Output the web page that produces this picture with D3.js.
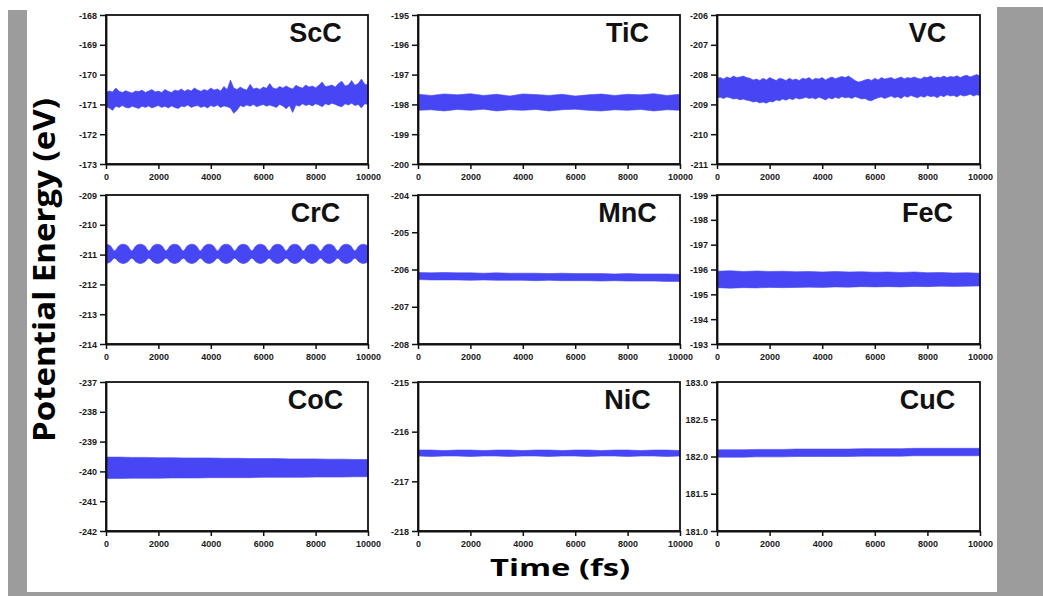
<!DOCTYPE html>
<html>
<head>
<meta charset="utf-8">
<script src="https://cdn.jsdelivr.net/npm/d3@7"></script>
<style>
  body { margin: 0; background: #fff; }
  svg { display: block; }
  .tick text { font-family: "Liberation Sans", Arial, sans-serif; font-weight: bold; font-size: 9px; fill: #1a1a1a; }
</style>
</head>
<body>
<svg id="chart" width="1043" height="596"></svg>
<script>

var panelNames = ["ScC", "TiC", "VC", "CrC", "MnC", "FeC", "CoC", "NiC", "CuC"];

var xTicks = [0, 2000, 4000, 6000, 8000, 10000];

// y axis: value at top of the box, value at bottom
var yTop    = [-168, -195, -206, -209, -204, -199, -237, -215, 183];
var yBottom = [-173, -200, -211, -214, -208, -193, -242, -218, 181];

var ticksScC = [-168, -169, -170, -171, -172, -173];
var ticksTiC = [-195, -196, -197, -198, -199, -200];
var ticksVC  = [-206, -207, -208, -209, -210, -211];
var ticksCrC = [-209, -210, -211, -212, -213, -214];
var ticksMnC = [-204, -205, -206, -207, -208];
var ticksFeC = [-199, -198, -197, -196, -195, -194, -193];
var ticksCoC = [-237, -238, -239, -240, -241, -242];
var ticksNiC = [-215, -216, -217, -218];
var ticksCuC = [183.0, 182.5, 182.0, 181.5, 181.0];

// time grids (fs)
var time125 = [0, 125, 250, 375, 500, 625, 750, 875, 1000, 1125, 1250, 1375, 1500, 1625, 1750, 1875,
  2000, 2125, 2250, 2375, 2500, 2625, 2750, 2875, 3000, 3125, 3250, 3375, 3500, 3625, 3750, 3875,
  4000, 4125, 4250, 4375, 4500, 4625, 4750, 4875, 5000, 5125, 5250, 5375, 5500, 5625, 5750, 5875,
  6000, 6125, 6250, 6375, 6500, 6625, 6750, 6875, 7000, 7125, 7250, 7375, 7500, 7625, 7750, 7875,
  8000, 8125, 8250, 8375, 8500, 8625, 8750, 8875, 9000, 9125, 9250, 9375, 9500, 9625, 9750, 9875, 10000];
var time500 = [0, 500, 1000, 1500, 2000, 2500, 3000, 3500, 4000, 4500, 5000, 5500, 6000, 6500, 7000,
  7500, 8000, 8500, 9000, 9500, 10000];
var timeCrC = [0, 164, 328, 491, 655, 819, 983, 1146, 1310, 1474, 1638, 1801, 1965, 2129, 2293, 2456,
  2620, 2784, 2948, 3111, 3275, 3439, 3603, 3766, 3930, 4094, 4258, 4421, 4585, 4749, 4913, 5076,
  5240, 5404, 5568, 5731, 5895, 6059, 6223, 6386, 6550, 6714, 6878, 7041, 7205, 7369, 7533, 7696,
  7860, 8024, 8188, 8351, 8515, 8679, 8843, 9006, 9170, 9334, 9498, 9661, 9825, 10000];

// upper / lower edge of the fluctuation band (eV)
var scUp = [-170.6, -170.55, -170.58, -170.45, -170.56, -170.6, -170.54, -170.58, -170.62, -170.55,
  -170.57, -170.52, -170.6, -170.55, -170.5, -170.58, -170.55, -170.6, -170.5, -170.56,
  -170.6, -170.52, -170.55, -170.48, -170.56, -170.5, -170.55, -170.45, -170.52, -170.56,
  -170.5, -170.54, -170.45, -170.52, -170.48, -170.55, -170.4, -170.5, -170.18, -170.45,
  -170.5, -170.42, -170.48, -170.52, -170.32, -170.48, -170.45, -170.5, -170.42, -170.46,
  -170.3, -170.45, -170.48, -170.4, -170.45, -170.38, -170.44, -170.48, -170.36, -170.42,
  -170.45, -170.35, -170.42, -170.38, -170.44, -170.36, -170.25, -170.4, -170.38, -170.35,
  -170.42, -170.3, -170.22, -170.38, -170.35, -170.2, -170.36, -170.3, -170.15, -170.32, -170.35];
var scLo = [-171.08, -171.12, -171.2, -171.06, -171.1, -171.04, -171.1, -171.12, -171.06, -171.1,
  -171.14, -171.06, -171.1, -171.05, -171.12, -171.08, -171.04, -171.1, -171.06, -171.12,
  -171.05, -171.1, -171.14, -171.06, -171.08, -171.02, -171.1, -171.06, -171.04, -171.1,
  -171.06, -171.12, -171.04, -171.08, -171.02, -171.1, -171.05, -171.08, -171.12, -171.3,
  -171.2, -171.04, -171.08, -171.02, -171.06, -171.0, -171.08, -171.04, -171.0, -171.06,
  -171.02, -171.06, -171.1, -171.0, -171.05, -171.15, -171.04, -171.27, -171.02, -171.06,
  -170.98, -171.04, -171.0, -171.05, -170.98, -171.02, -171.08, -170.98, -171.02, -170.96,
  -171.0, -171.05, -171.08, -170.98, -171.02, -170.96, -171.04, -171.0, -171.12, -170.98, -171.0];

var tiUp = [-197.66, -197.7, -197.65, -197.68, -197.64, -197.7, -197.66, -197.72, -197.65, -197.67, -197.7,
  -197.66, -197.72, -197.68, -197.65, -197.7, -197.66, -197.68, -197.64, -197.7, -197.66];
var tiLo = [-198.2, -198.18, -198.22, -198.17, -198.2, -198.16, -198.22, -198.18, -198.2, -198.17, -198.22,
  -198.18, -198.16, -198.2, -198.22, -198.18, -198.2, -198.17, -198.22, -198.18, -198.2];

var vUp = [-208.12, -208.1, -208.15, -208.08, -208.12, -208.05, -208.1, -208.08, -208.05, -208.1,
  -208.12, -208.18, -208.15, -208.2, -208.12, -208.18, -208.1, -208.15, -208.2, -208.12,
  -208.15, -208.2, -208.12, -208.18, -208.15, -208.2, -208.12, -208.15, -208.1, -208.18,
  -208.12, -208.15, -208.1, -208.18, -208.12, -208.08, -208.14, -208.1, -208.06, -208.1,
  -208.05, -208.12, -208.2, -208.25, -208.22, -208.18, -208.15, -208.2, -208.12, -208.18,
  -208.1, -208.15, -208.12, -208.1, -208.16, -208.12, -208.08, -208.14, -208.1, -208.12,
  -208.08, -208.12, -208.15, -208.08, -208.1, -208.05, -208.12, -208.08, -208.1, -208.05,
  -208.1, -208.06, -208.08, -208.04, -208.1, -208.05, -208.02, -208.08, -208.04, -208.0, -208.05];
var vLo = [-208.78, -208.76, -208.8, -208.75, -208.78, -208.82, -208.8, -208.85, -208.82, -208.86,
  -208.88, -208.92, -208.9, -208.95, -208.92, -208.96, -208.9, -208.92, -208.85, -208.88,
  -208.82, -208.86, -208.8, -208.84, -208.78, -208.82, -208.8, -208.76, -208.8, -208.78,
  -208.82, -208.76, -208.8, -208.85, -208.78, -208.82, -208.76, -208.8, -208.74, -208.78,
  -208.76, -208.8, -208.74, -208.78, -208.82, -208.8, -208.86, -208.88, -208.82, -208.78,
  -208.75, -208.8, -208.76, -208.72, -208.78, -208.74, -208.8, -208.72, -208.76, -208.7,
  -208.74, -208.78, -208.72, -208.76, -208.7, -208.74, -208.72, -208.78, -208.7, -208.74,
  -208.68, -208.72, -208.7, -208.75, -208.68, -208.72, -208.7, -208.66, -208.72, -208.68, -208.7];

var crUp = [-210.65, -210.7, -210.87, -210.7, -210.65, -210.7, -210.87, -210.7, -210.65, -210.7, -210.87, -210.7,
  -210.65, -210.7, -210.87, -210.7, -210.65, -210.7, -210.87, -210.7, -210.65, -210.7, -210.87, -210.7,
  -210.65, -210.7, -210.87, -210.7, -210.65, -210.7, -210.87, -210.7, -210.65, -210.7, -210.87, -210.7,
  -210.65, -210.7, -210.87, -210.7, -210.65, -210.7, -210.87, -210.7, -210.65, -210.7, -210.87, -210.7,
  -210.65, -210.7, -210.87, -210.7, -210.65, -210.7, -210.87, -210.7, -210.65, -210.7, -210.87, -210.7,
  -210.65, -210.7];
var crLo = [-211.3, -211.25, -211.12, -211.25, -211.3, -211.25, -211.12, -211.25, -211.3, -211.25, -211.12, -211.25,
  -211.3, -211.25, -211.12, -211.25, -211.3, -211.25, -211.12, -211.25, -211.3, -211.25, -211.12, -211.25,
  -211.3, -211.25, -211.12, -211.25, -211.3, -211.25, -211.12, -211.25, -211.3, -211.25, -211.12, -211.25,
  -211.3, -211.25, -211.12, -211.25, -211.3, -211.25, -211.12, -211.25, -211.3, -211.25, -211.12, -211.25,
  -211.3, -211.25, -211.12, -211.25, -211.3, -211.25, -211.12, -211.25, -211.3, -211.25, -211.12, -211.25,
  -211.3, -211.25];

var mnUp = [-206.08, -206.09, -206.08, -206.09, -206.09, -206.1, -206.09, -206.1, -206.1, -206.1, -206.11,
  -206.1, -206.11, -206.11, -206.11, -206.12, -206.11, -206.12, -206.12, -206.12, -206.13];
var mnLo = [-206.27, -206.28, -206.28, -206.28, -206.29, -206.28, -206.29, -206.29, -206.29, -206.3, -206.29,
  -206.3, -206.3, -206.3, -206.31, -206.3, -206.31, -206.31, -206.31, -206.32, -206.32];

var feUp = [-195.93, -195.95, -195.92, -195.94, -195.92, -195.93, -195.91, -195.92, -195.9, -195.92, -195.9,
  -195.91, -195.89, -195.9, -195.88, -195.9, -195.87, -195.88, -195.86, -195.87, -195.85];
var feLo = [-195.27, -195.25, -195.27, -195.26, -195.28, -195.27, -195.28, -195.29, -195.28, -195.3, -195.29,
  -195.31, -195.3, -195.31, -195.3, -195.32, -195.31, -195.33, -195.32, -195.33, -195.34];

var coUp = [-239.52, -239.52, -239.53, -239.53, -239.54, -239.54, -239.55, -239.55, -239.55, -239.56, -239.56,
  -239.57, -239.57, -239.57, -239.58, -239.58, -239.58, -239.59, -239.59, -239.6, -239.6];
var coLo = [-240.24, -240.24, -240.23, -240.23, -240.23, -240.22, -240.22, -240.22, -240.21, -240.21, -240.21,
  -240.21, -240.2, -240.2, -240.2, -240.2, -240.19, -240.19, -240.19, -240.18, -240.18];

var niUp = [-216.37, -216.37, -216.38, -216.37, -216.37, -216.38, -216.37, -216.37, -216.38, -216.37, -216.37,
  -216.38, -216.37, -216.37, -216.38, -216.37, -216.37, -216.38, -216.37, -216.37, -216.38];
var niLo = [-216.49, -216.5, -216.49, -216.49, -216.5, -216.49, -216.49, -216.5, -216.49, -216.49, -216.5,
  -216.49, -216.49, -216.5, -216.49, -216.49, -216.5, -216.49, -216.49, -216.5, -216.49];

var cuUp = [182.09, 182.09, 182.09, 182.095, 182.095, 182.095, 182.1, 182.1, 182.1, 182.1, 182.1,
  182.105, 182.105, 182.105, 182.105, 182.11, 182.11, 182.11, 182.11, 182.11, 182.11];
var cuLo = [181.99, 181.99, 181.99, 181.995, 181.995, 181.995, 182.0, 182.0, 182.0, 182.0, 182.0,
  182.005, 182.005, 182.005, 182.005, 182.01, 182.01, 182.01, 182.01, 182.01, 182.01];

var yTicks = [ticksScC, ticksTiC, ticksVC, ticksCrC, ticksMnC, ticksFeC, ticksCoC, ticksNiC, ticksCuC];
var times  = [time125, time500, time125, timeCrC, time500, time500, time500, time500, time500];
var ups    = [scUp, tiUp, vUp, crUp, mnUp, feUp, coUp, niUp, cuUp];
var los    = [scLo, tiLo, vLo, crLo, mnLo, feLo, coLo, niLo, cuLo];

// layout
var colLeft = [106, 418, 717];
var colWidth = [262, 262, 263];
var rowTop = [15, 195, 382];
var plotH = 149;
var blue = "#4646f5";

var svg = d3.select("#chart");

// grey page frame
svg.append("rect").attr("x", 8).attr("y", 10).attr("width", 19).attr("height", 586).attr("fill", "#9c9c9c");
svg.append("rect").attr("x", 997).attr("y", 7).attr("width", 46).attr("height", 589).attr("fill", "#9c9c9c");
svg.append("rect").attr("x", 8).attr("y", 592).attr("width", 1035).attr("height", 4).attr("fill", "#9c9c9c");

panelNames.forEach(function (name, i) {
    var col = i % 3, row = Math.floor(i / 3);
    var w = colWidth[col];
    var g = svg.append("g").attr("transform", "translate(" + colLeft[col] + "," + rowTop[row] + ")");

    var x = d3.scaleLinear().domain([0, 10000]).range([0, w]);
    var y = d3.scaleLinear().domain([yTop[i], yBottom[i]]).range([0, plotH]);

    var pts = times[i].map(function (t, k) { return {t: t, up: ups[i][k], lo: los[i][k]}; });

    var area = d3.area()
        .x(function (d) { return x(d.t); })
        .y0(function (d) { return y(d.lo); })
        .y1(function (d) { return y(d.up); })
        .curve(i === 3 ? d3.curveMonotoneX : d3.curveLinear);

    g.append("path")
        .datum(pts)
        .attr("d", area)
        .attr("fill", blue)
        .attr("stroke", blue)
        .attr("stroke-width", 0.6);

    var dec = (i === 8) ? 1 : 0;
    var yAxis = d3.axisLeft(y).tickValues(yTicks[i]).tickSize(6).tickSizeOuter(0)
        .tickFormat(function (d) { return d.toFixed(dec); });
    var xAxis = d3.axisBottom(x).tickValues(xTicks).tickSize(5).tickSizeOuter(0)
        .tickFormat(function (d) { return String(d); });

    var ya = g.append("g").call(yAxis);
    ya.selectAll("text").attr("x", -9).attr("dy", "0.35em");
    var xa = g.append("g").attr("transform", "translate(0," + plotH + ")").call(xAxis);
    xa.selectAll("text").attr("y", 10);

    g.selectAll(".domain").attr("stroke", "#111").attr("stroke-width", 1.8);
    g.selectAll(".tick line").attr("stroke", "#111").attr("stroke-width", 1.5);

    // box
    g.append("rect")
        .attr("width", w).attr("height", plotH)
        .attr("fill", "none").attr("stroke", "#111").attr("stroke-width", 1.8);

    g.append("text")
        .attr("x", w * 0.8).attr("y", 27)
        .attr("text-anchor", "middle")
        .style("font-family", "'Liberation Sans', Arial, sans-serif")
        .style("font-weight", "bold")
        .style("font-size", "27px")
        .attr("fill", "#111")
        .text(name);
});

// axis titles
svg.append("text")
    .attr("transform", "translate(55,270) rotate(-90)")
    .attr("text-anchor", "middle")
    .attr("textLength", 344)
    .attr("lengthAdjust", "spacingAndGlyphs")
    .style("font-family", "'Open Sans', sans-serif")
    .style("font-weight", "bold")
    .style("font-size", "30px")
    .attr("fill", "#000")
    .text("Potential Energy (eV)");

svg.append("text")
    .attr("x", 560).attr("y", 576)
    .attr("text-anchor", "middle")
    .attr("textLength", 140)
    .attr("lengthAdjust", "spacingAndGlyphs")
    .style("font-family", "'Open Sans', sans-serif")
    .style("font-weight", "bold")
    .style("font-size", "24px")
    .attr("fill", "#000")
    .text("Time (fs)");

</script>
</body>
</html>
